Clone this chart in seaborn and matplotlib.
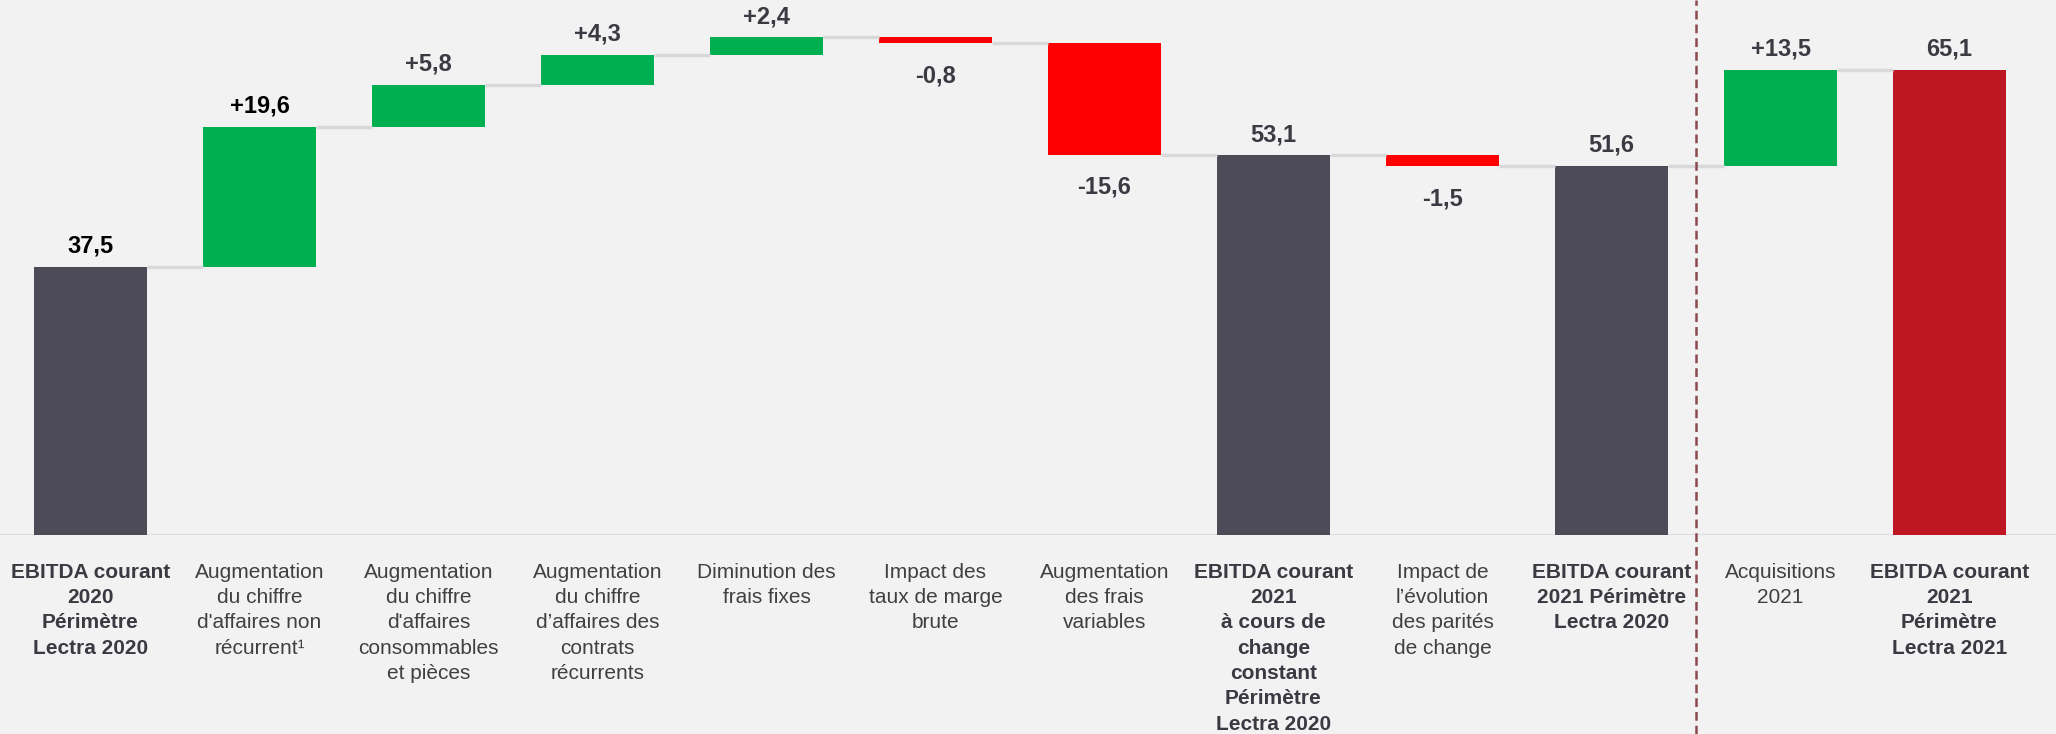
import matplotlib
matplotlib.use("Agg")
import matplotlib.pyplot as plt
import seaborn as sns
import numpy as np
import pandas as pd

categories = [
    "EBITDA courant\n2020\nPérimètre\nLectra 2020",
    "Augmentation\ndu chiffre\nd'affaires non\nrécurrent¹",
    "Augmentation\ndu chiffre\nd'affaires\nconsommables\net pièces",
    "Augmentation\ndu chiffre\nd’affaires des\ncontrats\nrécurrents",
    "Diminution des\nfrais fixes",
    "Impact des\ntaux de marge\nbrute",
    "Augmentation\ndes frais\nvariables",
    "EBITDA courant\n2021\nà cours de\nchange\nconstant\nPérimètre\nLectra 2020",
    "Impact de\nl’évolution\ndes parités\nde change",
    "EBITDA courant\n2021 Périmètre\nLectra 2020",
    "Acquisitions\n2021",
    "EBITDA courant\n2021\nPérimètre\nLectra 2021",
]
values = [37.5, 19.6, 5.8, 4.3, 2.4, -0.8, -15.6, 53.1, -1.5, 51.6, 13.5, 65.1]
is_total = [True, False, False, False, False, False, False, True, False, True, False, True]
value_labels = ["37,5", "+19,6", "+5,8", "+4,3", "+2,4", "-0,8", "-15,6",
                "53,1", "-1,5", "51,6", "+13,5", "65,1"]

# colours
BG = "#F2F2F2"
C_TOTAL = "#4D4B57"
C_UP = "#00B050"
C_DOWN = "#FF0000"
C_FINAL = "#BE1622"
C_CONN = "#D9D9D9"
C_TXT = "#404040"
C_VAL = "#3A3A42"

# waterfall geometry derived from values
bottoms, heights, ends, colors = [], [], [], []
run = 0.0
for i, (v, t) in enumerate(zip(values, is_total)):
    if t:
        bottoms.append(0.0)
        heights.append(v)
        run = v
        colors.append(C_FINAL if i == len(values) - 1 else C_TOTAL)
    else:
        if v >= 0:
            bottoms.append(run)
            heights.append(v)
            colors.append(C_UP)
        else:
            bottoms.append(run + v)
            heights.append(-v)
            colors.append(C_DOWN)
        run = run + v
    ends.append(run)

df = pd.DataFrame({"cat": categories, "height": heights})

sns.set_theme(style="white")
plt.rcParams["font.family"] = ["Liberation Sans", "DejaVu Sans"]

W, H = 2056, 734
fig = plt.figure(figsize=(W / 100, H / 100), dpi=100, facecolor=BG)
base_px = 535.0
ax = fig.add_axes([0, (H - base_px) / H, 1, base_px / H])
ax.set_facecolor(BG)

sns.barplot(data=df, x="cat", y="height", bottom=bottoms, width=0.67,
            color=C_TOTAL, errorbar=None, ax=ax, saturation=1, linewidth=0)
for p, c in zip(ax.patches, colors):
    p.set_facecolor(c)
    p.set_edgecolor("none")

spacing = 169.0
x0px = 90.5
ax.set_xlim(-x0px / spacing, (W - x0px) / spacing)
ppu = 7.15
ax.set_ylim(0, base_px / ppu)

# connectors
hw = 0.67 / 2
for i in range(len(values) - 1):
    lvl = ends[i]
    ax.plot([i + hw, i + 1 - hw], [lvl, lvl], color=C_CONN, lw=2.5,
            solid_capstyle="butt", zorder=1)
# baseline
ax.axhline(0, color="#DDDDDD", lw=1.5, zorder=0)

# value labels
for i, (v, t, lab) in enumerate(zip(values, is_total, value_labels)):
    col = "#000000" if i in (0, 1) else C_VAL
    if t or v >= 0:
        y = bottoms[i] + heights[i]
        ax.annotate(lab, (i, y), xytext=(0, 15), textcoords="offset points",
                    ha="center", va="center", fontsize=17, fontweight="bold",
                    color=col)
    else:
        y = bottoms[i]
        ax.annotate(lab, (i, y), xytext=(0, -23.5), textcoords="offset points",
                    ha="center", va="center", fontsize=17, fontweight="bold",
                    color=col)

# vertical dashed separator
ax.axvline(9.5, ymin=-(H - base_px) / base_px, ymax=1, clip_on=False,
           color="#8B4A4E", lw=1.8, linestyle=(0, (3.5, 2)))

# category labels
ax.set_xlabel("")
ax.set_ylabel("")
ax.set_yticks([])
ax.tick_params(axis="x", length=0, pad=20)
ax.set_xticks(range(len(categories)))
ax.set_xticklabels(categories, fontsize=15, color=C_TXT, linespacing=1.42)
for lbl, t in zip(ax.get_xticklabels(), is_total):
    if t:
        lbl.set_fontweight("bold")
        lbl.set_color(C_VAL)
for s in ax.spines.values():
    s.set_visible(False)

fig.savefig("out.png", dpi=100, facecolor=BG)
